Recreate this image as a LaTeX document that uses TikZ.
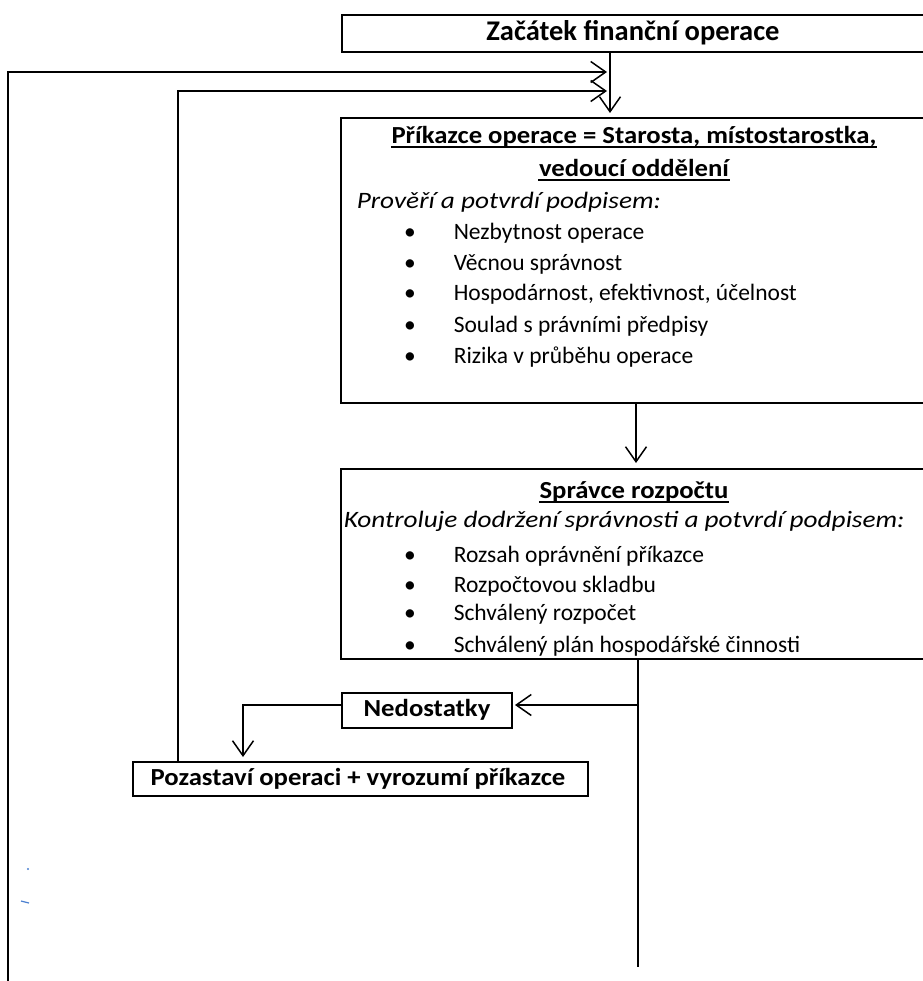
\documentclass[tikz,border=0pt]{standalone}
\usepackage{fontspec}
\setmainfont{Carlito}
\newfontfamily\headfont{Carlito}[FakeStretch=1.09]
\newfontfamily\introfont{Carlito}[FakeStretch=1.16]
\usetikzlibrary{arrows.meta}
\definecolor{markblue}{HTML}{4A7FD0}

\begin{document}
\begin{tikzpicture}[x=1pt,y=-1pt,line width=1.5pt,
    box/.style={draw,rectangle,anchor=north west,inner sep=0pt,outer sep=0pt},
    title/.style={font=\fontsize{28.5}{32}\selectfont\bfseries,inner sep=0pt},
    head/.style={font=\fontsize{24.5}{28}\headfont\bfseries,inner sep=0pt},
    line/.style={font=\fontsize{23.5}{27}\selectfont,anchor=base west,inner sep=0pt},
    intro/.style={line,font=\fontsize{23.5}{27}\introfont\itshape},
    dot/.style={line,anchor=base},
    arr/.style={-{Straight Barb[length=15pt,width=21pt]}}]
  \useasboundingbox (0,0) rectangle (922,981);
  % boxes
  \node[box,minimum width=590pt,minimum height=37pt] (start) at (342,15) {};
  \node[title] (starttext) at (633,33) {Začátek finanční operace};
  \node[box,minimum width=590pt,minimum height=285pt] (prikazce) at (341,118) {};
  \node[box,minimum width=590pt,minimum height=190pt] (spravce) at (341,469) {};
  \node[box,minimum width=170pt,minimum height=35pt] (nedostatky) at (342,693) {};
  \node[head] (nedtext) at (427,710) {Nedostatky};
  \node[box,minimum width=455pt,minimum height=34pt] (pozastavi) at (133,762) {};
  \node[head] (poztext) at (358,779) {Pozastaví operaci + vyrozumí příkazce};
  % texts of the first check
  \node[head] (prik1) at (634,137) {Příkazce operace = Starosta, místostarostka,};
  \node[head] (prik2) at (634,168) {vedoucí oddělení};
  \node[intro] (prik3) at (356,209) {Prověří a potvrdí podpisem:};
  \node[dot] (b1) at (410,240) {\textbullet};
  \node[line] (t1) at (453,240) {Nezbytnost operace};
  \node[dot] (b2) at (410,271) {\textbullet};
  \node[line] (t2) at (453,271) {Věcnou správnost};
  \node[dot] (b3) at (410,300) {\textbullet};
  \node[line] (t3) at (453,300) {Hospodárnost, efektivnost, účelnost};
  \node[dot] (b4) at (410,332) {\textbullet};
  \node[line] (t4) at (453,332) {Soulad s právními předpisy};
  \node[dot] (b5) at (410,363) {\textbullet};
  \node[line] (t5) at (453,363) {Rizika v průběhu operace};
  % texts of the second check
  \node[head] (spr1) at (634,492) {Správce rozpočtu};
  \node[intro] (spr2) at (343,527) {Kontroluje dodržení správnosti a potvrdí podpisem:};
  \node[dot] (c1) at (410,562) {\textbullet};
  \node[line] (u1) at (453,562) {Rozsah oprávnění příkazce};
  \node[dot] (c2) at (410,592) {\textbullet};
  \node[line] (u2) at (453,592) {Rozpočtovou skladbu};
  \node[dot] (c3) at (410,620) {\textbullet};
  \node[line] (u3) at (453,620) {Schválený rozpočet};
  \node[dot] (c4) at (410,652) {\textbullet};
  \node[line] (u4) at (453,652) {Schválený plán hospodářské činnosti};
  % underlines
  \draw ([yshift=-3.5pt]prik1.base west) -- ([yshift=-3.5pt]prik1.base east);
  \draw ([yshift=-3.5pt]prik2.base west) -- ([yshift=-3.5pt]prik2.base east);
  \draw ([yshift=-3.5pt]spr1.base west) -- ([yshift=-3.5pt]spr1.base east);
  % points on the lines
  \coordinate (j1) at (610,72);
  \coordinate (j2) at (610,91);
  \coordinate (low) at (8,985);
  \coordinate (split) at (638,705);
  \coordinate (end) at (638,967);
  % connectors
  \draw[arr,shorten >=5pt] (start.south -| j1) -- (prikazce.north -| j1);
  \draw[arr,shorten >=3pt] (low) |- (j1);
  \draw[arr,shorten >=3pt] ([xshift=45pt]pozastavi.north west) |- (j2);
  \draw[arr,shorten >=6pt] (prikazce.south) -- (spravce.north);
  \draw (spravce.south -| end) -- (end);
  \draw[arr,shorten >=3pt] (split) -- (split -| nedostatky.east);
  \draw[arr,shorten >=5pt] ([yshift=-12pt]nedostatky.north west) -| ([xshift=110pt]pozastavi.north west);
  % stray marks
  \fill[markblue] (28,869) circle (1.2pt);
  \draw[markblue,line width=1.2pt] (21,901) -- (29,903);
\end{tikzpicture}
\end{document}
